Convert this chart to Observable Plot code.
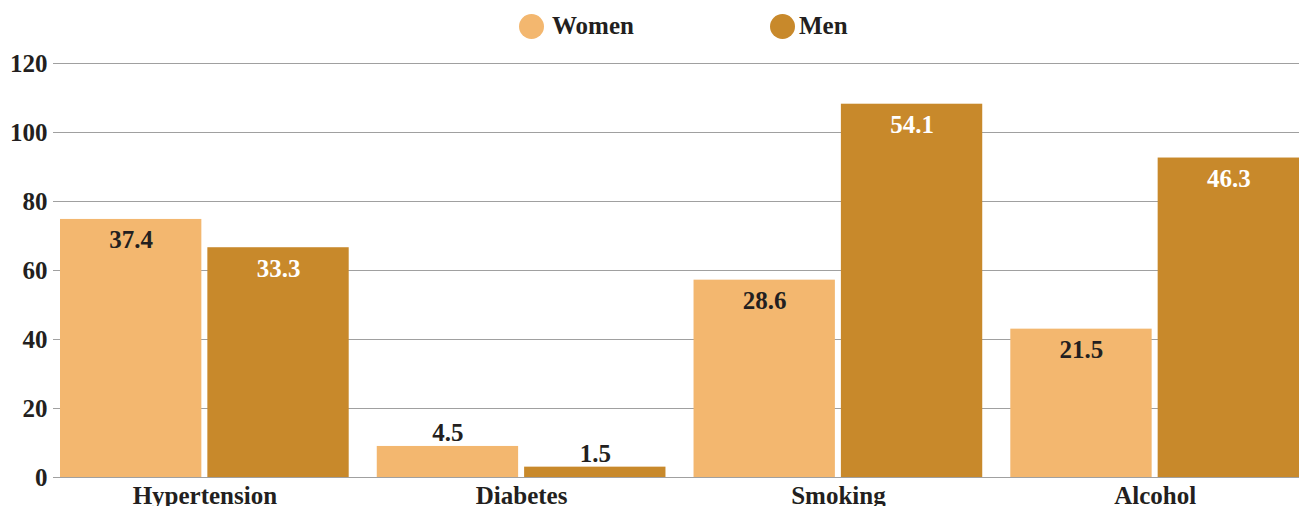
<!DOCTYPE html>
<html>
<head>
<meta charset="utf-8">
<script src="https://cdn.jsdelivr.net/npm/d3@7"></script>
<script src="https://cdn.jsdelivr.net/npm/@observablehq/plot@0.6"></script>
<style>
  html, body { margin: 0; padding: 0; background: #fff; overflow: hidden; }
  body { width: 1299px; font-family: "Liberation Serif", "Times New Roman", serif; font-weight: bold; color: #231f20; }
  #legend { position: relative; height: 40px; font-size: 25px; }
  .item { position: absolute; top: 13px; display: flex; align-items: center; height: 26px; }
  .dot { width: 25px; height: 25px; border-radius: 50%; display: inline-block; }
  .item span.lbl { line-height: 26px; }
</style>
</head>
<body>
<div id="legend"></div>
<div id="chart"></div>
<script>
const categories = ["Hypertension", "Diabetes", "Smoking", "Alcohol"];
const series = ["Women", "Men"];
const womenLabels = [37.4, 4.5, 28.6, 21.5];
const menLabels = [33.3, 1.5, 54.1, 46.3];
const womenHeights = [74.8, 9.0, 57.2, 43.0];
const menHeights = [66.6, 3.0, 108.2, 92.6];
const yTicks = [0, 20, 40, 60, 80, 100, 120];
const colors = ["#f3b76f", "#c8892b"];

const data = [];
categories.forEach((c, i) => {
  data.push({category: c, sex: "Women", height: womenHeights[i], label: womenLabels[i]});
  data.push({category: c, sex: "Men", height: menHeights[i], label: menLabels[i]});
});

// legend
const legend = document.getElementById("legend");
const legendPos = [{dot: 519, gap: 8}, {dot: 770, gap: 4}];
series.forEach((s, i) => {
  const it = document.createElement("div");
  it.className = "item";
  it.style.left = legendPos[i].dot + "px";
  const d = document.createElement("span");
  d.className = "dot";
  d.style.background = colors[i];
  d.style.marginRight = legendPos[i].gap + "px";
  const t = document.createElement("span");
  t.className = "lbl";
  t.textContent = s;
  it.appendChild(d); it.appendChild(t);
  legend.appendChild(it);
});

// layout constants
const xRange = [60, 1299];
const padInner = 28 / 316;
const step = (xRange[1] - xRange[0]) / (categories.length - padInner);
const bw = step * (1 - padInner);
const barGap = 6;
const inset = bw / 2 + barGap / 2;
const off = (bw - barGap) / 4 + barGap / 2;

const women = data.filter(d => d.sex === "Women");
const men = data.filter(d => d.sex === "Men");
const small = d => d.height < 20;

const chart = Plot.plot({
  width: 1299,
  height: 480,
  marginTop: 23,
  marginBottom: 43,
  marginLeft: 53,
  marginRight: 0,
  style: {fontFamily: '"Liberation Serif", "Times New Roman", serif', fontSize: "25px", fontWeight: "bold", color: "#231f20", background: "#fff", overflow: "visible"},
  x: {domain: categories, range: xRange, paddingInner: padInner, paddingOuter: 0, round: false, label: null},
  y: {domain: [0, 120], label: null},
  color: {domain: series, range: colors},
  marks: [
    Plot.ruleY(yTicks, {stroke: "#a0a0a0", strokeWidth: 1.2}),
    Plot.barY(women, {x: "category", y: "height", fill: "sex", insetRight: inset}),
    Plot.barY(men, {x: "category", y: "height", fill: "sex", insetLeft: inset}),
    Plot.text(women.filter(d => !small(d)), {x: "category", y: "height", text: d => d.label.toFixed(1), dx: -off, dy: 21, fill: "#231f20"}),
    Plot.text(men.filter(d => !small(d)), {x: "category", y: "height", text: d => d.label.toFixed(1), dx: off, dy: 21, fill: "#ffffff"}),
    Plot.text(women.filter(small), {x: "category", y: "height", text: d => d.label.toFixed(1), dx: -off, dy: -13, fill: "#231f20"}),
    Plot.text(men.filter(small), {x: "category", y: "height", text: d => d.label.toFixed(1), dx: off, dy: -13, fill: "#231f20"}),
    Plot.axisY({ticks: yTicks, tickSize: 0, tickPadding: 6, label: null}),
    Plot.axisX({tickSize: 0, tickPadding: 9, label: null})
  ]
});
document.getElementById("chart").appendChild(chart);
</script>
</body>
</html>
